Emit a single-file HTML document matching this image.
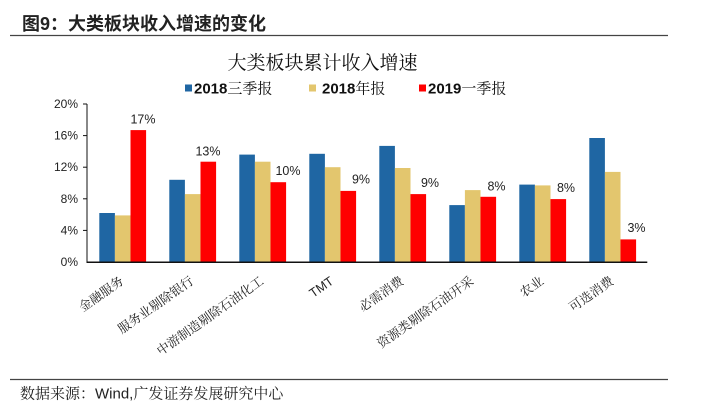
<!DOCTYPE html>
<html><head><meta charset="utf-8"><style>
html,body{margin:0;padding:0;background:#fff;}
svg{display:block;}
.ser{font-family:"Liberation Sans","Noto Serif CJK SC",serif;}
.san{font-family:"Liberation Sans","Noto Sans CJK SC",sans-serif;}
</style></head><body>
<svg width="720" height="414" viewBox="0 0 720 414" xmlns="http://www.w3.org/2000/svg">
<rect width="720" height="414" fill="#fff"/>
<text x="22" y="30" class="san" font-size="18" font-weight="bold" fill="#222">图9：大类板块收入增速的变化</text>
<line x1="10" y1="35.5" x2="668" y2="35.5" stroke="#444" stroke-width="1.2"/>
<text x="322.5" y="69" class="ser" font-size="19" text-anchor="middle" fill="#111">大类板块累计收入增速</text>
<g class="ser" font-size="15" fill="#111">
<rect x="185" y="84.5" width="7" height="7" fill="#1F66A3"/>
<text x="194" y="93.5"><tspan font-weight="bold">2018</tspan>三季报</text>
<rect x="309" y="84.5" width="7" height="7" fill="#E3C66E"/>
<text x="322" y="93.5"><tspan font-weight="bold">2018</tspan>年报</text>
<rect x="419" y="84.5" width="7" height="7" fill="#FF0000"/>
<text x="428" y="93.5"><tspan font-weight="bold">2019</tspan>一季报</text>
</g>
<g class="san" font-size="12" fill="#222" text-anchor="end">
<text x="78" y="108">20%</text>
<text x="78" y="139.6">16%</text>
<text x="78" y="171.2">12%</text>
<text x="78" y="202.8">8%</text>
<text x="78" y="234.4">4%</text>
<text x="78" y="266">0%</text>
</g>
<g stroke="#111" stroke-width="1">
<line x1="87" y1="104" x2="87" y2="262"/>
<line x1="83" y1="104" x2="87" y2="104"/>
<line x1="83" y1="135.6" x2="87" y2="135.6"/>
<line x1="83" y1="167.2" x2="87" y2="167.2"/>
<line x1="83" y1="198.8" x2="87" y2="198.8"/>
<line x1="83" y1="230.4" x2="87" y2="230.4"/>
</g>
<g>
<rect x="99.3" y="213.0" width="15.6" height="49.0" fill="#1F66A3"/>
<rect x="114.9" y="215.4" width="15.6" height="46.6" fill="#E3C66E"/>
<rect x="130.5" y="130.1" width="15.6" height="131.9" fill="#FF0000"/>
<rect x="169.3" y="179.8" width="15.6" height="82.2" fill="#1F66A3"/>
<rect x="184.9" y="194.1" width="15.6" height="67.9" fill="#E3C66E"/>
<rect x="200.5" y="161.7" width="15.6" height="100.3" fill="#FF0000"/>
<rect x="239.3" y="154.6" width="15.6" height="107.4" fill="#1F66A3"/>
<rect x="254.9" y="161.7" width="15.6" height="100.3" fill="#E3C66E"/>
<rect x="270.5" y="182.2" width="15.6" height="79.8" fill="#FF0000"/>
<rect x="309.3" y="153.8" width="15.6" height="108.2" fill="#1F66A3"/>
<rect x="324.9" y="167.2" width="15.6" height="94.8" fill="#E3C66E"/>
<rect x="340.5" y="190.9" width="15.6" height="71.1" fill="#FF0000"/>
<rect x="379.3" y="145.9" width="15.6" height="116.1" fill="#1F66A3"/>
<rect x="394.9" y="168.0" width="15.6" height="94.0" fill="#E3C66E"/>
<rect x="410.5" y="194.1" width="15.6" height="67.9" fill="#FF0000"/>
<rect x="449.3" y="205.1" width="15.6" height="56.9" fill="#1F66A3"/>
<rect x="464.9" y="190.1" width="15.6" height="71.9" fill="#E3C66E"/>
<rect x="480.5" y="196.8" width="15.6" height="65.2" fill="#FF0000"/>
<rect x="519.3" y="184.6" width="15.6" height="77.4" fill="#1F66A3"/>
<rect x="534.9" y="185.4" width="15.6" height="76.6" fill="#E3C66E"/>
<rect x="550.5" y="199.1" width="15.6" height="62.9" fill="#FF0000"/>
<rect x="589.3" y="138.0" width="15.6" height="124.0" fill="#1F66A3"/>
<rect x="604.9" y="171.9" width="15.6" height="90.1" fill="#E3C66E"/>
<rect x="620.5" y="239.4" width="15.6" height="22.6" fill="#FF0000"/>
</g>
<line x1="86.5" y1="262.3" x2="647.3" y2="262.3" stroke="#111" stroke-width="1.5"/>
<g class="san" font-size="12.5" fill="#222" text-anchor="middle">
<text x="143" y="123.5">17%</text>
<text x="208" y="155.5">13%</text>
<text x="288" y="175">10%</text>
<text x="361" y="183.5">9%</text>
<text x="430" y="187">9%</text>
<text x="496.5" y="190.5">8%</text>
<text x="566" y="192">8%</text>
<text x="636.5" y="232">3%</text>
</g>
<g class="ser" font-size="12.7" fill="#222" text-anchor="end">
<text transform="translate(124.5,283) rotate(-35)">金融服务</text>
<text transform="translate(194.5,283) rotate(-35)">服务业剔除银行</text>
<text transform="translate(264.5,283) rotate(-35)">中游制造剔除石油化工</text>
<text transform="translate(334.5,283) rotate(-35)">TMT</text>
<text transform="translate(404.5,283) rotate(-35)">必需消费</text>
<text transform="translate(474.5,283) rotate(-35)">资源类剔除石油开采</text>
<text transform="translate(544.5,283) rotate(-35)">农业</text>
<text transform="translate(614.5,283) rotate(-35)">可选消费</text>
</g>
<line x1="10" y1="379.5" x2="668" y2="379.5" stroke="#444" stroke-width="1.2"/>
<text x="20" y="398.5" class="ser" font-size="15" fill="#222">数据来源：Wind,广发证券发展研究中心</text>
</svg>
</body></html>
